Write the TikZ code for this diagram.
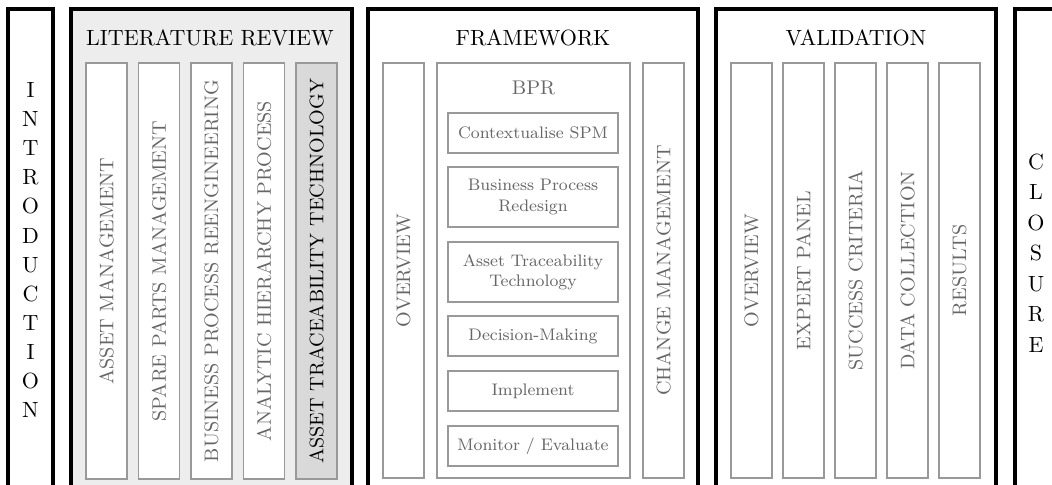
\documentclass[tikz,border=0pt]{standalone}
\definecolor{litfill}{HTML}{EDEDED}
\definecolor{attfill}{HTML}{D9D9D9}
\definecolor{linegray}{HTML}{999999}
\definecolor{textgray}{HTML}{666666}
\tikzset{
  outerbox/.style={draw=black, line width=1.5pt},
  colbox/.style={draw=linegray, line width=0.6pt, fill=white},
  coltext/.style={rotate=90, text=textgray, font=\fontsize{8.9}{10.7}\selectfont, inner sep=0pt},
  titletext/.style={anchor=base, font=\fontsize{10}{12}\selectfont, inner sep=0pt},
  boxtext/.style={align=center, text=textgray, font=\fontsize{7.6}{9.1}\selectfont, inner sep=0pt},
  vertletters/.style={align=center, inner sep=0pt},
}
\begin{document}
\begin{tikzpicture}[x=0.4545pt, y=-0.4545pt]
\useasboundingbox (0,0) rectangle (1052,484);
\clip (0,0) rectangle (1052,484);

% Outer boxes
\draw[outerbox] (8,9) rectangle (53,520);
\draw[outerbox, fill=litfill] (71,9) rectangle (352,520);
\draw[outerbox] (368,9) rectangle (698,520);
\draw[outerbox] (716,9) rectangle (996,520);
\draw[outerbox] (1015,9) rectangle (1060,520);

% Introduction / Closure
\node[vertletters, font=\fontsize{10}{13.2}\selectfont] (intro) at (30.5,250)
  {I\\N\\T\\R\\O\\D\\U\\C\\T\\I\\O\\N};
\node[vertletters, font=\fontsize{10}{13.9}\selectfont] (closure) at (1036,253)
  {C\\L\\O\\S\\U\\R\\E};

% Titles
\node[titletext] (littitle) at (210,45) {LITERATURE REVIEW};
\node[titletext] (fwtitle) at (533,45) {FRAMEWORK};
\node[titletext] (valtitle) at (856,45) {VALIDATION};

% Literature review columns
\draw[colbox] (86,63) rectangle (127,479);
\draw[colbox] (138.5,63) rectangle (179.5,479);
\draw[colbox] (191,63) rectangle (232,479);
\draw[colbox] (243.5,63) rectangle (284.5,479);
\draw[colbox, fill=attfill] (296,63) rectangle (337,479);
\node[coltext] (lit1) at (106.5,271) {ASSET MANAGEMENT};
\node[coltext] (lit2) at (159,271) {SPARE PARTS MANAGEMENT};
\node[coltext] (lit3) at (211.5,271) {BUSINESS PROCESS REENGINEERING};
\node[coltext] (lit4) at (264,271) {ANALYTIC HIERARCHY PROCESS};
\node[coltext, text=black] (lit5) at (316.5,271) {ASSET TRACEABILITY TECHNOLOGY};

% Framework columns
\draw[colbox] (383,63) rectangle (424,478);
\draw[colbox] (437,63) rectangle (630,478);
\draw[colbox] (643,63) rectangle (684,478);
\node[coltext] (fw1) at (403.5,270.5) {OVERVIEW};
\node[coltext] (fw3) at (663.5,270.5) {CHANGE MANAGEMENT};
\node[anchor=base, text=textgray, font=\fontsize{9}{11}\selectfont, inner sep=0pt] (bpr) at (533.5,94) {BPR};

% BPR steps
\draw[colbox] (448,113) rectangle (618,153);
\draw[colbox] (448,167) rectangle (618,227);
\draw[colbox] (448,242) rectangle (618,302);
\draw[colbox] (448,316) rectangle (618,356);
\draw[colbox] (448,371) rectangle (618,411);
\draw[colbox] (448,426) rectangle (618,466);
\node[boxtext] (s1) at (533,133) {Contextualise SPM};
\node[boxtext] (s2) at (533,197) {Business Process\\Redesign};
\node[boxtext] (s3) at (533,272) {Asset Traceability\\Technology};
\node[boxtext] (s4) at (533,336) {Decision-Making};
\node[boxtext] (s5) at (533,391) {Implement};
\node[boxtext] (s6) at (533,446) {Monitor / Evaluate};

% Validation columns
\draw[colbox] (731,63) rectangle (772,478);
\draw[colbox] (783,63) rectangle (824,478);
\draw[colbox] (835,63) rectangle (876,478);
\draw[colbox] (887,63) rectangle (928,478);
\draw[colbox] (939,63) rectangle (980,478);
\node[coltext] (v1) at (751.5,270.5) {OVERVIEW};
\node[coltext] (v2) at (803.5,270.5) {EXPERT PANEL};
\node[coltext] (v3) at (855.5,270.5) {SUCCESS CRITERIA};
\node[coltext] (v4) at (907.5,270.5) {DATA COLLECTION};
\node[coltext] (v5) at (959.5,270.5) {RESULTS};
\end{tikzpicture}
\end{document}
